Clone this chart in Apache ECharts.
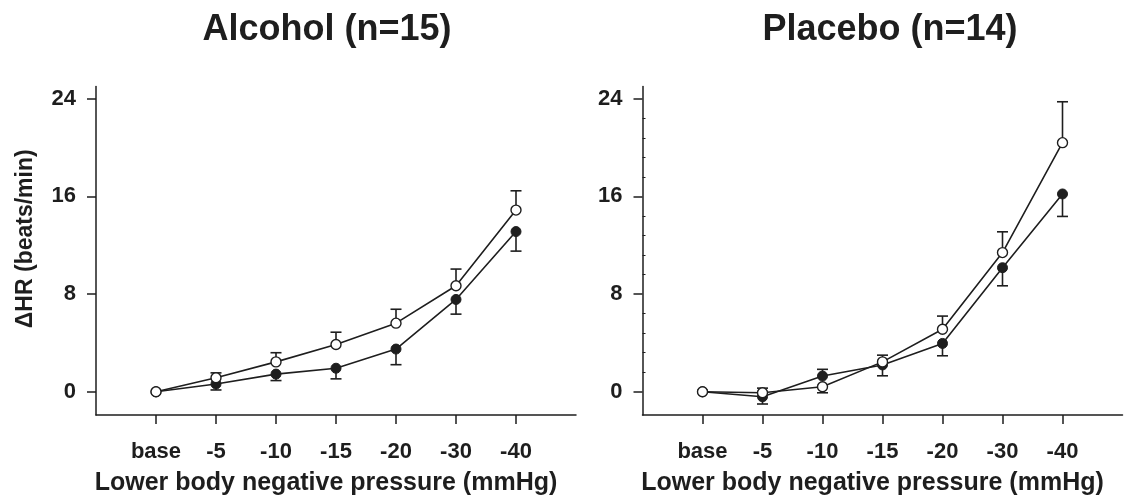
<!DOCTYPE html>
<html>
<head>
<meta charset="utf-8">
<script src="https://cdn.jsdelivr.net/npm/echarts@6/dist/echarts.min.js"></script>
<style>
html, body { margin: 0; padding: 0; background: #fff; }
#chart { width: 1138px; height: 504px; }
</style>
</head>
<body>
<div id="chart"></div>
<script>
// categories of the x axis, placed at positions 1..7 of a 0..8 axis
var categories = ['base', '-5', '-10', '-15', '-20', '-30', '-40'];
var catPos = [1, 2, 3, 4, 5, 6, 7];
var yTicks = [0, 8, 16, 24];
var yMinorTicks = [1.6, 3.2, 4.8, 6.4, 9.6, 11.2, 12.8, 14.4, 17.6, 19.2, 20.8, 22.4];

// Alcohol (n=15): means and error bar ends (null = no bar)
var alcoholOpen = [0, 1.15, 2.45, 3.87, 5.62, 8.68, 14.88];
var alcoholOpenErr = [null, 1.55, 3.2, 4.88, 6.76, 10.05, 16.46];
var alcoholFilled = [0, 0.64, 1.45, 1.93, 3.5, 7.56, 13.12];
var alcoholFilledErr = [null, 0.15, 0.92, 1.06, 2.22, 6.36, 11.52];

// Placebo (n=14)
var placeboOpen = [0, -0.08, 0.41, 2.45, 5.12, 11.4, 20.4];
var placeboOpenErr = [null, 0.3, -0.08, 3.0, 6.2, 13.1, 23.75];
var placeboFilled = [0, -0.41, 1.29, 2.2, 3.96, 10.16, 16.2];
var placeboFilledErr = [null, -1.0, 1.84, 1.31, 2.95, 8.68, 14.36];

var FONT = '"Liberation Sans", Arial, sans-serif';
var INK = '#1e1e1e';

function points(values) {
	return values.map(function (v, i) { return [catPos[i], v]; });
}

function errPoints(values, ends) {
	var out = [];
	for (var i = 0; i < values.length; i++) {
		if (ends[i] !== null) out.push([catPos[i], values[i], ends[i]]);
	}
	return out;
}

function renderErr(params, api) {
	var x = api.value(0);
	var p0 = api.coord([x, api.value(1)]);
	var p1 = api.coord([x, api.value(2)]);
	var w = 5.5;
	var st = { stroke: INK, lineWidth: 1.6 };
	return {
		type: 'group',
		children: [
			{ type: 'line', shape: { x1: p0[0], y1: p0[1], x2: p1[0], y2: p1[1] }, style: st },
			{ type: 'line', shape: { x1: p1[0] - w, y1: p1[1], x2: p1[0] + w, y2: p1[1] }, style: st }
		]
	};
}

function xAxisFor(gridIndex) {
	return {
		type: 'value', gridIndex: gridIndex, min: 0, max: 8,
		axisLine: { show: true, onZero: false, lineStyle: { color: INK, width: 1.5 } },
		axisTick: { show: true, customValues: catPos, length: 9, lineStyle: { color: INK, width: 1.5 } },
		axisLabel: {
			customValues: catPos, margin: 26, color: INK, fontFamily: FONT, fontWeight: 'bold', fontSize: 22,
			formatter: function (v) { return categories[Math.round(v) - 1]; }
		},
		splitLine: { show: false },
		name: 'Lower body negative pressure (mmHg)',
		nameLocation: 'middle', nameGap: 56,
		nameTextStyle: { color: INK, fontFamily: FONT, fontWeight: 'bold', fontSize: 25, padding: [0, 20, 0, 0] }
	};
}

function yAxisFor(gridIndex, withName) {
	var ax = {
		type: 'value', gridIndex: gridIndex, min: -1.9, max: 25,
		axisLine: { show: true, onZero: false, lineStyle: { color: INK, width: 1.5 } },
		axisTick: { show: true, customValues: yTicks, length: 9, lineStyle: { color: INK, width: 1.5 } },
		axisLabel: { customValues: yTicks, margin: 20, color: INK, fontFamily: FONT, fontWeight: 'bold', fontSize: 22 },
		splitLine: { show: false }
	};
	if (withName) {
		ax.name = 'ΔHR (beats/min)';
		ax.nameLocation = 'middle';
		ax.nameGap = 59;
		ax.nameTextStyle = { color: INK, fontFamily: FONT, fontWeight: 'bold', fontSize: 23, padding: [0, 0, 0, 24] };
	}
	return ax;
}

function panelSeries(idx, open, openErr, filled, filledErr) {
	var lineStyle = { color: INK, width: 1.6 };
	return [
		{
			type: 'custom', xAxisIndex: idx, yAxisIndex: idx, z: 1,
			renderItem: renderErr, encode: { x: 0, y: [1, 2] },
			data: errPoints(filled, filledErr)
		},
		{
			type: 'custom', xAxisIndex: idx, yAxisIndex: idx, z: 1,
			renderItem: renderErr, encode: { x: 0, y: [1, 2] },
			data: errPoints(open, openErr)
		},
		{
			type: 'line', xAxisIndex: idx, yAxisIndex: idx, z: 3,
			data: points(filled), symbol: 'circle', symbolSize: 10, showAllSymbol: true,
			lineStyle: lineStyle, itemStyle: { color: INK, borderColor: INK, borderWidth: 1 }
		},
		{
			type: 'line', xAxisIndex: idx, yAxisIndex: idx, z: 4,
			data: points(open), symbol: 'circle', symbolSize: 10, showAllSymbol: true,
			lineStyle: lineStyle, itemStyle: { color: '#fff', borderColor: INK, borderWidth: 1.4 }
		}
	];
}

var chart = echarts.init(document.getElementById('chart'));
var minorAxis = {
	type: 'value', gridIndex: 1, min: -1.9, max: 25, position: 'left',
	axisLine: { show: false },
	axisTick: { show: true, inside: true, customValues: yMinorTicks, length: 3, lineStyle: { color: INK, width: 1 } },
	axisLabel: { show: false },
	splitLine: { show: false }
};

chart.setOption({
	animation: false,
	backgroundColor: '#fff',
	title: [
		{ text: 'Alcohol (n=15)', left: 322, top: 7, textAlign: 'center',
			textStyle: { color: INK, fontFamily: FONT, fontWeight: 'bold', fontSize: 36 } },
		{ text: 'Placebo (n=14)', left: 885, top: 7, textAlign: 'center',
			textStyle: { color: INK, fontFamily: FONT, fontWeight: 'bold', fontSize: 36 } }
	],
	grid: [
		{ left: 96, top: 86.5, width: 480, height: 328.5 },
		{ left: 642.5, top: 86.5, width: 480, height: 328.5 }
	],
	xAxis: [xAxisFor(0), xAxisFor(1)],
	yAxis: [yAxisFor(0, true), yAxisFor(1, false), minorAxis],
	series: []
		.concat(panelSeries(0, alcoholOpen, alcoholOpenErr, alcoholFilled, alcoholFilledErr))
		.concat(panelSeries(1, placeboOpen, placeboOpenErr, placeboFilled, placeboFilledErr))
});
</script>
</body>
</html>
